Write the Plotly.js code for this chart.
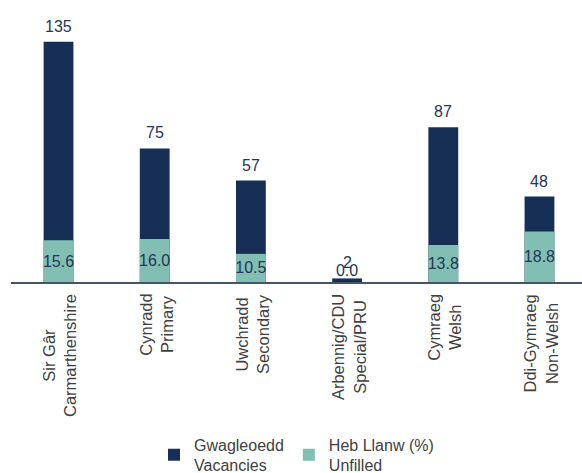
<!DOCTYPE html>
<html>
<head>
<meta charset="utf-8">
<script src="https://cdn.plot.ly/plotly-3.0.1.min.js"></script>
<style>html,body{margin:0;padding:0;background:#fff;}#chart{width:582px;height:473px;}</style>
</head>
<body>
<div id="chart"></div>
<script>
const categories = [
  "Sir Gâr<br>Carmarthenshire",
  "Cynradd<br>Primary",
  "Uwchradd<br>Secondary",
  "Arbennig/CDU<br>Special/PRU",
  "Cymraeg<br>Welsh",
  "Ddi-Gymraeg<br>Non-Welsh"
];
const vacancies = [135, 75, 57, 2, 87, 48];
const unfilledPct = [15.6, 16.0, 10.5, 0.0, 13.8, 18.8];
const seriesNames = ["Gwagleoedd<br>Vacancies", "Heb Llanw (%)<br>Unfilled"];

const navy = "#172F55";
const teal = "#80BFB2";
const labelColor = "#243659";
const fontFam = "'Liberation Sans', Arial, sans-serif";

const traces = [
  {
    type: "bar",
    name: seriesNames[0],
    x: categories,
    y: vacancies,
    yaxis: "y",
    width: 0.31,
    marker: {color: navy},
    hoverinfo: "x+y"
  },
  {
    type: "bar",
    name: seriesNames[1],
    x: categories,
    y: unfilledPct,
    yaxis: "y2",
    width: 0.31,
    marker: {color: teal},
    text: unfilledPct.map(v => v.toFixed(1)),
    textposition: unfilledPct.map(v => v === 0 ? "outside" : "inside"),
    insidetextanchor: "middle",
    textangle: 0,
    constraintext: "none",
    cliponaxis: false,
    textfont: {family: fontFam, size: 16, color: labelColor},
    insidetextfont: {family: fontFam, size: 16, color: labelColor},
    outsidetextfont: {family: fontFam, size: 16, color: labelColor},
    hoverinfo: "x+y"
  }
];

const valueAnnotations = categories.map((c, i) => ({
  x: c, y: vacancies[i], xref: "x", yref: "y",
  text: String(vacancies[i]),
  showarrow: false, yanchor: "bottom", yshift: 5,
  font: {family: fontFam, size: 16, color: labelColor}
}));

const tickAnnotations = categories.map(c => ({
  x: c, y: 0, xref: "x", yref: "y",
  text: c, textangle: -90, align: "center",
  showarrow: false, yanchor: "top", xanchor: "center", yshift: -10, xshift: 1,
  font: {family: fontFam, size: 16.5, color: "#404040"}
}));

const layout = {
  width: 582, height: 473,
  margin: {l: 11, r: 0, t: 10, b: 191, autoexpand: false},
  paper_bgcolor: "#fff", plot_bgcolor: "#fff",
  barmode: "overlay",
  font: {family: fontFam, size: 15, color: "#404040"},
  showlegend: true,
  legend: {
    orientation: "h", x: 0.5, xanchor: "center", y: -0.535, yanchor: "top",
    font: {family: fontFam, size: 16, color: "#404040"},
    traceorder: "normal"
  },
  xaxis: {
    type: "category",
    range: [-0.494, 5.442],
    automargin: false,
    showline: true, linecolor: "#44546A", linewidth: 1.5,
    showgrid: false, zeroline: false, ticks: "",
    showticklabels: false
  },
  yaxis: {
    range: [0, 152.8], visible: false, showgrid: false, zeroline: false, automargin: false
  },
  yaxis2: {
    range: [0, 101.5], overlaying: "y", side: "right",
    visible: false, showgrid: false, zeroline: false, automargin: false
  },
  annotations: valueAnnotations.concat(tickAnnotations)
};

Plotly.newPlot("chart", traces, layout, {staticPlot: true, displayModeBar: false});
</script>
</body>
</html>
